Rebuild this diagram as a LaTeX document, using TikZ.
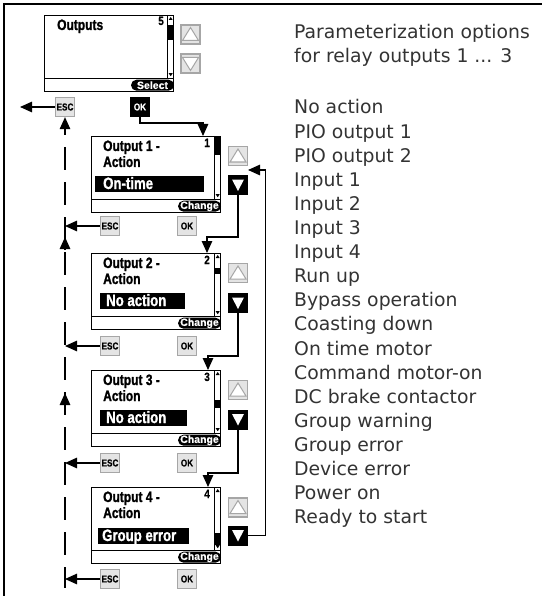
\documentclass[tikz,border=0pt]{standalone}
\usepackage{fontspec}
\setmainfont{DejaVu Sans}
\newfontfamily\lcdfam[FakeStretch=0.8,FakeBold=1.2]{Liberation Sans}
\newfontfamily\lcdvalfam[FakeStretch=0.8,FakeBold=1.2]{Liberation Sans}
\newfontfamily\keyfam[FakeStretch=0.82,FakeBold=0.6]{Liberation Sans}
\newfontfamily\pillfam[FakeBold=0.6]{Liberation Sans}
\usetikzlibrary{arrows.meta}
\definecolor{keyfill}{HTML}{E4E4E4}
\definecolor{keyline}{HTML}{A6A6A6}
\newcommand\lcdbig{\lcdfam\bfseries\fontsize{15}{15}\selectfont}
\newcommand\lcdval{\lcdvalfam\bfseries\fontsize{16.5}{16.5}\selectfont}
\newcommand\lcdsmall{\keyfam\bfseries\fontsize{10}{10}\selectfont}
\newcommand\lcdnum{\keyfam\bfseries\fontsize{12}{12}\selectfont}
\newcommand\pilltext{\pillfam\bfseries\fontsize{10.5}{10.5}\selectfont}
\newcommand\opttext{\fontsize{18.8}{24}\selectfont}
\newcommand\lcdscreen[5]{%
  \node[screen] (scr#1) at (#2,#3) {};
  \draw[line width=1.2pt] ([yshift=14pt]scr#1.south west) -- ([yshift=14pt]scr#1.south east);
  \draw[line width=0.8pt] ([xshift=-7pt]scr#1.north east) -- ([xshift=-7pt,yshift=14pt]scr#1.south east);
  \fill ([xshift=-7pt,yshift=-#4pt]scr#1.north east) rectangle ([yshift=-#5pt]scr#1.north east);
  \fill ([xshift=-5.5pt,yshift=-5pt]scr#1.north east) -- ([xshift=-1.5pt,yshift=-5pt]scr#1.north east) -- ([xshift=-3.5pt,yshift=-2pt]scr#1.north east) -- cycle;
  \fill ([xshift=-5.5pt,yshift=19pt]scr#1.south east) -- ([xshift=-1.5pt,yshift=19pt]scr#1.south east) -- ([xshift=-3.5pt,yshift=16pt]scr#1.south east) -- cycle;
}
\newcommand\uptri[1]{\draw[triline] ([xshift=-8pt,yshift=-6pt]#1.center) -- ([xshift=8pt,yshift=-6pt]#1.center) -- ([yshift=7pt]#1.center) -- cycle;}
\newcommand\dntri[1]{\draw[triline] ([xshift=-8pt,yshift=6pt]#1.center) -- ([xshift=8pt,yshift=6pt]#1.center) -- ([yshift=-7pt]#1.center) -- cycle;}
\newcommand\dnblack[1]{\fill[white] ([xshift=-6pt,yshift=5.5pt]#1.center) -- ([xshift=6pt,yshift=5.5pt]#1.center) -- ([yshift=-6pt]#1.center) -- cycle;}
\begin{document}
\begin{tikzpicture}[x=1pt,y=-1pt,
  frame/.style={line width=1.5pt},
  screen/.style={draw, line width=1.2pt, fill=white, minimum width=129pt, minimum height=76pt, inner sep=0pt, anchor=north west},
  gkey/.style={draw=keyline, fill=keyfill, line width=1.3pt, minimum width=19pt, minimum height=19pt, inner sep=0pt, font=\lcdsmall},
  bkey/.style={fill=black, text=white, minimum width=20pt, minimum height=20pt, inner sep=0pt, font=\lcdsmall},
  pill/.style={fill=black, text=white, rounded corners=5.5pt, minimum height=11pt, minimum width=43pt, inner xsep=1pt, inner ysep=0pt, font=\pilltext, anchor=east},
  lbl/.style={font=\lcdbig, anchor=base west, inner sep=0pt},
  val/.style={font=\lcdval, anchor=base west, inner sep=0pt, text=white},
  num/.style={font=\lcdnum, anchor=base east, inner sep=0pt},
  arr/.style={line width=1.2pt, -{Triangle[length=12pt,width=10.5pt]}},
  conn/.style={line width=1.2pt},
  opt/.style={font=\opttext, anchor=base west, inner sep=0pt, text=black!80},
  triline/.style={draw=keyline, fill=white, line width=1pt}]
\useasboundingbox (0,0) rectangle (542,596);
% frame
\draw[frame] (4,596) -- (4,4) -- (542,4);

% ---- screen 0
\lcdscreen{0}{44}{15}{10}{25}
\node[lbl] (ttl0) at (57,30) {Outputs};
\node[num] (n0) at (164,25) {5};
\node[pill] (sel) at ([yshift=7pt]scr0.south east) {Select};
\node[gkey] (up0) at (190.5,34.5) {};
\uptri{up0}
\node[gkey] (dn0) at (190.5,63.5) {};
\dntri{dn0}
\node[gkey] (esc0) at (65,107) {ESC};
\node[bkey] (ok0) at (140,107) {OK};

% ---- screen 1
\lcdscreen{1}{91}{136}{0}{19}
\node[lbl] (t1a) at (103,151) {Output 1 -};
\node[lbl] (t1b) at (103,167) {Action};
\fill (95,176) rectangle (204,192);
\node[val] (v1) at (103,189) {On-time};
\node[num] (n1) at (210,147) {1};
\node[pill] (chg1) at ([yshift=7pt]scr1.south east) {Change};
\node[gkey] (up1) at (238,156) {};
\uptri{up1}
\node[bkey] (dn1) at (238,185) {};
\dnblack{dn1}
\node[gkey] (esc1) at (110,226) {ESC};
\node[gkey] (ok1) at (187,226) {OK};

% ---- screen 2
\lcdscreen{2}{91}{253}{15}{21}
\node[lbl] (t2a) at (103,268) {Output 2 -};
\node[lbl] (t2b) at (103,284) {Action};
\fill (100,293) rectangle (185,309);
\node[val] (v2) at (106,306) {No action};
\node[num] (n2) at (210,264) {2};
\node[pill] (chg2) at ([yshift=7pt]scr2.south east) {Change};
\node[gkey] (up2) at (238,273) {};
\uptri{up2}
\node[bkey] (dn2) at (238,303) {};
\dnblack{dn2}
\node[gkey] (esc2) at (110,346) {ESC};
\node[gkey] (ok2) at (187,346) {OK};

% ---- screen 3
\lcdscreen{3}{91}{370}{30}{38}
\node[lbl] (t3a) at (103,385) {Output 3 -};
\node[lbl] (t3b) at (103,401) {Action};
\fill (100,410) rectangle (187,426);
\node[val] (v3) at (106,423) {No action};
\node[num] (n3) at (210,381) {3};
\node[pill] (chg3) at ([yshift=7pt]scr3.south east) {Change};
\node[gkey] (up3) at (238,390) {};
\uptri{up3}
\node[bkey] (dn3) at (238,419.5) {};
\dnblack{dn3}
\node[gkey] (esc3) at (110,463) {ESC};
\node[gkey] (ok3) at (187,463) {OK};

% ---- screen 4
\lcdscreen{4}{91}{487}{46}{58}
\node[lbl] (t4a) at (103,502) {Output 4 -};
\node[lbl] (t4b) at (103,518) {Action};
\fill (98,528) rectangle (189,544);
\node[val] (v4) at (102,541) {Group error};
\node[num] (n4) at (210,498) {4};
\node[pill] (chg4) at ([yshift=7pt]scr4.south east) {Change};
\node[gkey] (up4) at (238,507.5) {};
\uptri{up4}
\node[bkey] (dn4) at (238,535.5) {};
\dnblack{dn4}
\node[gkey] (esc4) at (110,579) {ESC};
\node[gkey] (ok4) at (187,579) {OK};

% ---- connectors
\coordinate (in1) at (203,136);
\coordinate (in2) at (207,253);
\coordinate (in3) at (208,370);
\coordinate (in4) at (208,487);
\draw[arr] (ok0.south) |- ([yshift=13pt]in1) -- (in1);
\draw[arr] (dn1.south) |- ([yshift=16pt]in2) -- (in2);
\draw[arr] (dn2.south) |- ([yshift=14pt]in3) -- (in3);
\draw[arr] (dn3.south) |- ([yshift=14pt]in4) -- (in4);
\coordinate (ret) at (248,170);
\draw[arr] (dn4.east) -- ++(17,0) |- (ret);

% ESC path
\coordinate (out0) at (20,107);
\draw[arr] (esc0.west) -- (out0);
\coordinate (dtop) at (65,130);
\coordinate (dbot) at (65,588);
\draw[conn, dash pattern=on 23pt off 12pt, dash phase=18pt] (dtop) -- (dbot);
\draw[arr] (dtop) -- (esc0.south);
\coordinate (da1s) at (65,249);
\coordinate (da1) at (65,237);
\coordinate (da2s) at (65,405);
\coordinate (da2) at (65,393);
\draw[arr] (da1s) -- (da1);
\draw[arr] (da2s) -- (da2);
\draw[arr] (esc1.west) -- (esc1.west -| dtop);
\draw[arr] (esc2.west) -- (esc2.west -| dtop);
\draw[arr] (esc3.west) -- (esc3.west -| dtop);
\draw[arr] (esc4.west) -- (esc4.west -| dtop);

% ---- right text
\node[opt] (hdr1) at (294,39) {Parameterization options};
\node[opt] (hdr2) at (294,62.5) {for relay outputs 1 ... 3};
\foreach \t [count=\i] in {No action, PIO output 1, PIO output 2, Input 1, Input 2, Input 3, Input 4, Run up, Bypass operation, Coasting down, On time motor, Command motor-on, DC brake contactor, Group warning, Group error, Device error, Power on, Ready to start}
  \node[opt] (opt\i) at (294,{114+24.1*(\i-1)}) {\t};
\end{tikzpicture}
\end{document}
